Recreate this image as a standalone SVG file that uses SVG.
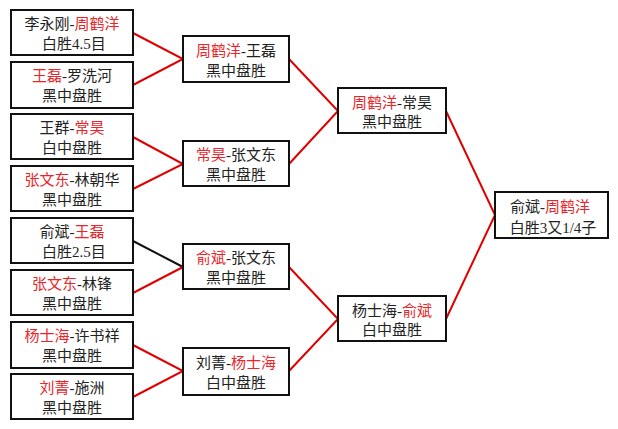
<svg xmlns="http://www.w3.org/2000/svg" width="618" height="429" viewBox="0 0 618 429">
<style>
.box{fill:#fff;stroke:#111;stroke-width:2}
.t{font-family:"Liberation Serif","Noto Sans CJK SC",serif;font-size:15px;fill:#222;text-anchor:middle}
.r{fill:#e8262a}
.ln{stroke:#e00000;stroke-width:2;fill:none}
.lk{stroke:#111;stroke-width:2;fill:none}
</style>
<rect width="618" height="429" fill="#fff"/>
<g id="connectors">
<path class="ln" d="M133,33 L183,59 L133,85"/>
<path class="ln" d="M133,137 L183,164 L133,189"/>
<path class="lk" d="M133,241 L183,267"/>
<path class="ln" d="M183,267 L133,293"/>
<path class="ln" d="M133,345 L183,371 L133,397"/>
<path class="ln" d="M289,59 L338,111 L289,164"/>
<path class="ln" d="M289,267 L338,319 L289,371"/>
<path class="ln" d="M446,111 L495,215 L446,319"/>
</g>
<g id="n1"><rect class="box" x="11" y="10" width="122" height="45"/><text class="t" x="72" y="29">李永刚-<tspan class="r">周鹤洋</tspan></text><text class="t" x="74" y="49">白胜4.5目</text></g>
<g id="n2"><rect class="box" x="11" y="62" width="122" height="46"/><text class="t" x="72" y="81"><tspan class="r">王磊</tspan>-罗洗河</text><text class="t" x="72" y="101">黑中盘胜</text></g>
<g id="n3"><rect class="box" x="11" y="114" width="122" height="45"/><text class="t" x="72" y="133">王群-<tspan class="r">常昊</tspan></text><text class="t" x="72" y="153">白中盘胜</text></g>
<g id="n4"><rect class="box" x="11" y="166" width="122" height="45"/><text class="t" x="72" y="185"><tspan class="r">张文东</tspan>-林朝华</text><text class="t" x="72" y="205">黑中盘胜</text></g>
<g id="n5"><rect class="box" x="11" y="218" width="122" height="45"/><text class="t" x="72" y="237">俞斌-<tspan class="r">王磊</tspan></text><text class="t" x="74" y="257">白胜2.5目</text></g>
<g id="n6"><rect class="box" x="11" y="270" width="122" height="45"/><text class="t" x="72" y="289"><tspan class="r">张文东</tspan>-林锋</text><text class="t" x="72" y="309">黑中盘胜</text></g>
<g id="n7"><rect class="box" x="11" y="322" width="122" height="46"/><text class="t" x="72" y="341"><tspan class="r">杨士海</tspan>-许书祥</text><text class="t" x="72" y="361">黑中盘胜</text></g>
<g id="n8"><rect class="box" x="11" y="374" width="122" height="45"/><text class="t" x="72" y="393"><tspan class="r">刘菁</tspan>-施洲</text><text class="t" x="72" y="413">黑中盘胜</text></g>
<g id="m1"><rect class="box" x="183" y="36" width="106" height="46"/><text class="t" x="236" y="56"><tspan class="r">周鹤洋</tspan>-王磊</text><text class="t" x="236" y="76">黑中盘胜</text></g>
<g id="m2"><rect class="box" x="183" y="141" width="106" height="45"/><text class="t" x="236" y="160"><tspan class="r">常昊</tspan>-张文东</text><text class="t" x="236" y="180">黑中盘胜</text></g>
<g id="m3"><rect class="box" x="183" y="244" width="106" height="45"/><text class="t" x="236" y="263"><tspan class="r">俞斌</tspan>-张文东</text><text class="t" x="236" y="283">黑中盘胜</text></g>
<g id="m4"><rect class="box" x="183" y="348" width="106" height="47"/><text class="t" x="236" y="368">刘菁-<tspan class="r">杨士海</tspan></text><text class="t" x="236" y="388">白中盘胜</text></g>
<g id="s1"><rect class="box" x="338" y="88" width="108" height="45"/><text class="t" x="392" y="108"><tspan class="r">周鹤洋</tspan>-常昊</text><text class="t" x="392" y="127">黑中盘胜</text></g>
<g id="s2"><rect class="box" x="338" y="296" width="108" height="45"/><text class="t" x="392" y="316">杨士海-<tspan class="r">俞斌</tspan></text><text class="t" x="392" y="335">白中盘胜</text></g>
<g id="f"><rect class="box" x="495" y="192" width="113" height="46"/><text class="t" x="550" y="212">俞斌-<tspan class="r">周鹤洋</tspan></text><text class="t" x="553" y="233">白胜3又1/4子</text></g>
</svg>
